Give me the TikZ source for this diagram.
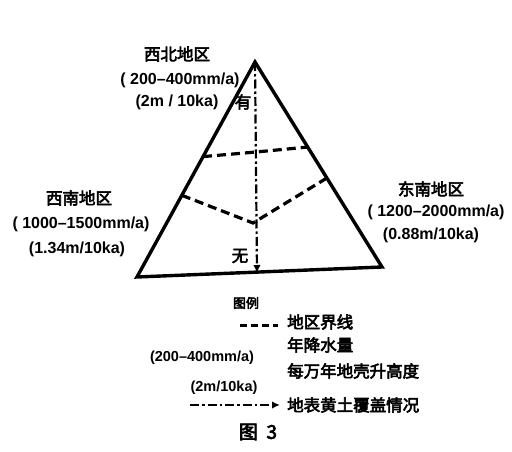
\documentclass[tikz,border=0pt]{standalone}
\usepackage{fontspec}
\setmainfont{Liberation Sans}
\newfontfamily\cjk[FakeBold=3.5]{Noto Sans CJK SC}
\usetikzlibrary{calc,arrows.meta}
\begin{document}
\begin{tikzpicture}[x=1pt,y=-1pt,
  edge/.style={line width=3.4pt, line join=miter},
  bound/.style={line width=3.2pt, dash pattern=on 9pt off 5pt},
  loess/.style={line width=2.2pt, dash pattern=on 9pt off 3pt on 2.5pt off 3pt},
  tip/.style={-{Latex[length=8pt,width=7.5pt]}},
  cn/.style={font=\cjk\fontsize{16.5}{18}\selectfont, inner sep=0pt},
  num/.style={font=\bfseries\fontsize{16}{18}\selectfont, inner sep=0pt},
  lnum/.style={font=\bfseries\fontsize{14.5}{16}\selectfont, inner sep=0pt}]
\useasboundingbox (0,0) rectangle (512,452);
% triangle
\coordinate (A) at (255,62);
\coordinate (L) at (137,277);
\coordinate (R) at (382,267);
\draw[edge] (A) -- (L) -- (R) -- cycle;
% boundaries
\coordinate (u1) at ($(A)!0.44!(L)$);
\coordinate (uc) at (256,152);
\coordinate (u2) at ($(A)!0.415!(R)$);
\draw[bound] (u1) -- (uc) -- (u2);
\coordinate (v1) at ($(A)!0.62!(L)$);
\coordinate (vc) at (253,223);
\coordinate (v2) at ($(A)!0.566!(R)$);
\draw[bound] (v1) -- (vc) -- (v2);
% loess arrow
\coordinate (bot) at (257,273);
\draw[loess,tip] (A) -- (bot);
\node[cn] (you) at (243,102) {有};
\node[cn] (wu) at (240,256) {无};
% region labels
\node[cn] (nw) at (177,54) {西北地区};
\node[num] (nwp) at (180,80) {( 200–400mm/a)};
\node[num] (nwh) at (177,102) {(2m / 10ka)};
\node[cn] (sw) at (79,198) {西南地区};
\node[num] (swp) at (81,224) {( 1000–1500mm/a)};
\node[num] (swh) at (77,249) {(1.34m/10ka)};
\node[cn] (se) at (431,189) {东南地区};
\node[num] (sep) at (436,212) {( 1200–2000mm/a)};
\node[num] (seh) at (431,235) {(0.88m/10ka)};
% legend
\node[cn, font=\cjk\fontsize{13}{15}\selectfont] (tl) at (246,303) {图例};
\coordinate (ld1) at (240,325);
\coordinate (ld2) at (278,325);
\draw[line width=3pt, dash pattern=on 7pt off 4pt] (ld1) -- (ld2);
\node[cn, anchor=west] (l1) at (287,322) {地区界线};
\node[cn, anchor=west] (l2) at (287,345) {年降水量};
\node[lnum] (l2v) at (202,358) {(200–400mm/a)};
\node[cn, anchor=west] (l3) at (287,371) {每万年地壳升高度};
\node[lnum] (l3v) at (224,388) {(2m/10ka)};
\coordinate (la1) at (190,405);
\coordinate (la2) at (280,405);
\draw[loess,tip] (la1) -- (la2);
\node[cn, anchor=west] (l4) at (287,405) {地表黄土覆盖情况};
\node[cn, font=\cjk\fontsize{19}{21}\selectfont] (cap) at (258,432) {图\ \ 3};
\end{tikzpicture}
\end{document}
